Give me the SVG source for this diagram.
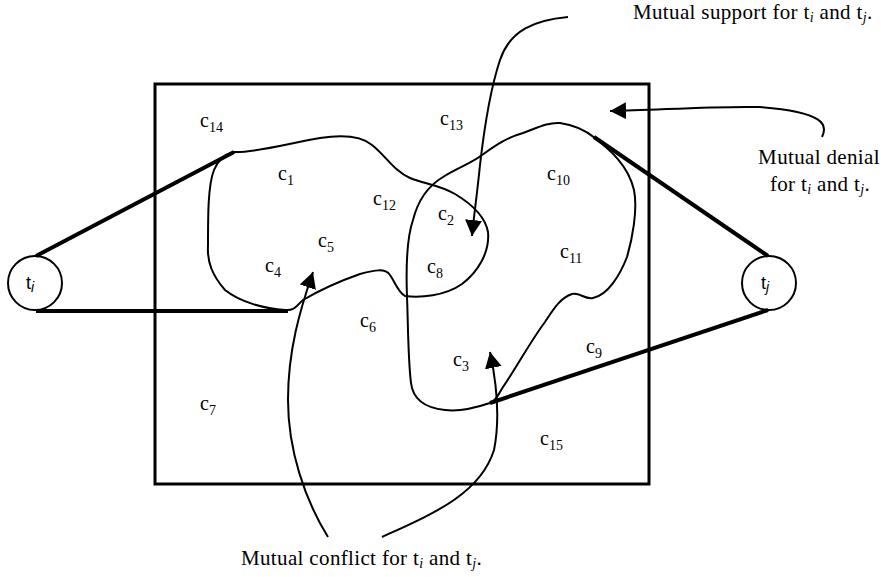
<svg xmlns="http://www.w3.org/2000/svg" width="881" height="577" viewBox="0 0 881 577">
<style>
text{font-family:'Liberation Serif','DejaVu Serif',serif;font-size:20px;fill:#000}
text.cap{font-size:21px;letter-spacing:0.35px}
text.sans{font-family:'Liberation Sans','DejaVu Sans',sans-serif;font-size:18px;letter-spacing:0}
.s{font-size:14px}
.cap .s{font-size:14px}
.i{font-style:italic}
.thin{fill:none;stroke:#000;stroke-width:2}
.thick{fill:none;stroke:#000;stroke-width:4}
.box{fill:none;stroke:#000;stroke-width:3}
.ar{fill:none;stroke:#000;stroke-width:2;marker-end:url(#ah)}
</style>
<defs>
<marker id="ah" markerUnits="userSpaceOnUse" viewBox="0 0 16 17" markerWidth="16" markerHeight="17" refX="16" refY="8.5" orient="auto"><path d="M0,0 L16,8.5 L0,17 Z" fill="#000"/></marker>
</defs>
<rect class="box" x="155" y="84" width="494" height="400"/>
<g id="ti"><circle class="thin" cx="35" cy="283" r="27"/><text class="sans" x="26" y="289">t<tspan class="s i" dy="3">i</tspan></text></g>
<g id="tj"><circle class="thin" cx="769" cy="283" r="27"/><text class="sans" x="761" y="289">t<tspan class="s i" dy="3">j</tspan></text></g>
<g id="blob-i"><path class="thin" d="M234,152 C255,153 290,143 320,138 C340,135 360,135 372,145 C385,155 395,172 410,178 C425,184 440,185 455,194 C470,203 485,215 488,232 C490,252 478,272 462,284 C445,296 420,298 405,296 C398,292 395,282 390,275 C385,268 375,270 360,274 C340,281 320,290 303,300 C297,305 295,311 285,310 C265,309 240,302 225,290 C212,275 207,262 208,245 C208,215 208,185 214,170 C218,160 226,154 234,152 Z"/></g>
<g id="blob-j"><path class="thin" d="M560,123 C575,125 585,130 595,138 C610,150 628,165 634,190 C638,210 632,240 627,257 C620,275 608,295 593,298 C585,300 580,292 572,294 C560,298 553,310 545,322 C530,342 515,370 503,387 C498,395 495,402 490,403 C475,408 460,412 445,410 C425,408 413,400 411,383 C408,360 408,320 407,297 C406,270 406,240 413,220 C418,200 428,186 443,177 C457,168 472,163 482,155 C492,148 505,138 523,133 C537,128 548,122 560,123 Z"/></g>
<g id="connectors">
<line class="thick" x1="36" y1="256" x2="234" y2="152" stroke-width="3"/>
<line class="thick" x1="36" y1="311" x2="288" y2="311"/>
<line class="thick" x1="768" y1="256" x2="594" y2="137" stroke-width="3"/>
<line class="thick" x1="768" y1="310" x2="490" y2="403"/>
<path class="ar" d="M568,17 C535,20 510,30 500,60 C490,90 484,130 480,165 C477,195 474,215 472,236"/>
<path class="ar" d="M822,137 C828,125 825,112 760,107 C710,106 660,110 610,111"/>
<path class="ar" d="M328,537 C305,500 288,450 288,400 C288,350 300,310 313,272"/>
<path class="ar" d="M382,537 C430,515 480,495 494,450 C500,420 497,385 490,352"/>
</g>
<g id="labels">
<text x="200" y="127">c<tspan class="s" dy="5">14</tspan></text>
<text x="440" y="125">c<tspan class="s" dy="5">13</tspan></text>
<text x="278" y="180">c<tspan class="s" dy="5">1</tspan></text>
<text x="373" y="205">c<tspan class="s" dy="5">12</tspan></text>
<text x="438" y="220">c<tspan class="s" dy="5">2</tspan></text>
<text x="318" y="247">c<tspan class="s" dy="5">5</tspan></text>
<text x="265" y="272">c<tspan class="s" dy="5">4</tspan></text>
<text x="427" y="273">c<tspan class="s" dy="5">8</tspan></text>
<text x="360" y="327">c<tspan class="s" dy="5">6</tspan></text>
<text x="453" y="366">c<tspan class="s" dy="5">3</tspan></text>
<text x="200" y="410">c<tspan class="s" dy="5">7</tspan></text>
<text x="547" y="180">c<tspan class="s" dy="5">10</tspan></text>
<text x="560" y="258">c<tspan class="s" dy="5">11</tspan></text>
<text x="586" y="353">c<tspan class="s" dy="5">9</tspan></text>
<text x="540" y="445">c<tspan class="s" dy="5">15</tspan></text>
</g>
<g id="captions">
<text class="cap" x="633" y="19">Mutual support for t<tspan class="s i" dy="3">i</tspan><tspan dy="-3"> and t</tspan><tspan class="s i" dy="3">j</tspan><tspan dy="-3">.</tspan></text>
<text class="cap" x="819" y="164" text-anchor="middle">Mutual denial</text>
<text class="cap" x="820" y="191" text-anchor="middle">for t<tspan class="s i" dy="3">i</tspan><tspan dy="-3"> and t</tspan><tspan class="s i" dy="3">j</tspan><tspan dy="-3">.</tspan></text>
<text class="cap" x="241" y="565">Mutual conflict for t<tspan class="s i" dy="3">i</tspan><tspan dy="-3"> and t</tspan><tspan class="s i" dy="3">j</tspan><tspan dy="-3">.</tspan></text>
</g>
</svg>
